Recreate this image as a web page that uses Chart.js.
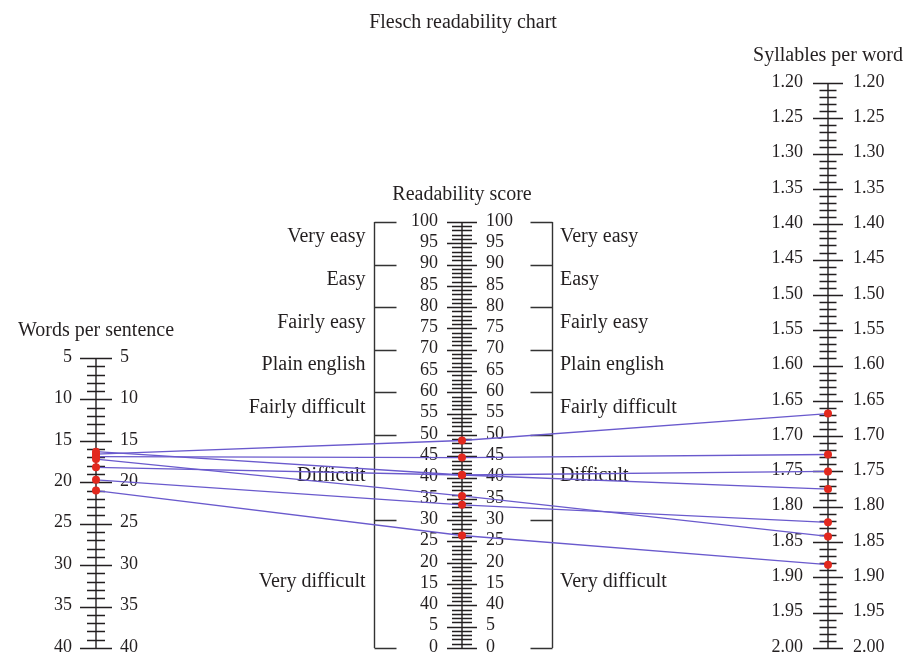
<!DOCTYPE html>
<html>
<head>
<meta charset="utf-8">
<script src="https://cdn.jsdelivr.net/npm/chart.js@4.4.1/dist/chart.umd.min.js"></script>
<style>
  html, body { margin: 0; padding: 0; background: #fff; }
  #wrap { width: 907px; height: 656px; }
</style>
</head>
<body>
<div id="wrap"><canvas id="chart"></canvas></div>
<script>
// tick values of the three scales
const wordsTicks = [5, 10, 15, 20, 25, 30, 35, 40];
const scoreTicks = [100, 95, 90, 85, 80, 75, 70, 65, 60, 55, 50, 45, 40, 35, 30, 25, 20, 15, 10, 5, 0];
const scoreTickLabels = ['100', '95', '90', '85', '80', '75', '70', '65', '60', '55', '50', '45', '40', '35', '30', '25', '20', '15', '40', '5', '0'];
const syllTicks = [1.20, 1.25, 1.30, 1.35, 1.40, 1.45, 1.50, 1.55, 1.60, 1.65, 1.70, 1.75, 1.80, 1.85, 1.90, 1.95, 2.00];

// readability bands (edges and names)
const bandEdges = [100, 90, 80, 70, 60, 50, 30, 0];
const bandNames = ['Very easy', 'Easy', 'Fairly easy', 'Plain english', 'Fairly difficult', 'Difficult', 'Very difficult'];

// one entry per text
const docWords = [16.6, 16.9, 18.2, 16.3, 19.7, 17.2, 21.0];
const docScore = [48.7, 44.7, 40.6, 40.6, 33.6, 35.7, 26.4];
const docSyll = [1.668, 1.726, 1.750, 1.775, 1.822, 1.842, 1.882];

const NUM_FONT = '18px "Liberation Serif", "DejaVu Serif", serif';
const TEXT_FONT = '20px "Liberation Serif", "DejaVu Serif", serif';
const INK = '#231f20';
const LINE = 'rgb(106, 90, 205)';
const DOT = 'rgb(226, 40, 30)';

function drawScale(ctx, x, scale, ticks, labels, fine, opts) {
  const top = scale.getPixelForValue(ticks[0]);
  const bot = scale.getPixelForValue(ticks[ticks.length - 1]);
  ctx.strokeStyle = INK;
  ctx.lineWidth = 1.4;
  ctx.beginPath();
  ctx.moveTo(x, top);
  ctx.lineTo(x, bot);
  // minor ticks
  const lo = Math.min(ticks[0], ticks[ticks.length - 1]);
  const hi = Math.max(ticks[0], ticks[ticks.length - 1]);
  const n = Math.round((hi - lo) / fine);
  for (let i = 0; i <= n; i++) {
    const y = Math.round(scale.getPixelForValue(lo + i * fine)) + 0.5;
    ctx.moveTo(x - opts.minor, y);
    ctx.lineTo(x + opts.minor, y);
  }
  ticks.forEach(t => {
    const y = Math.round(scale.getPixelForValue(t)) + 0.5;
    ctx.moveTo(x - opts.major, y);
    ctx.lineTo(x + opts.major, y);
  });
  ctx.stroke();

  ctx.fillStyle = INK;
  ctx.font = NUM_FONT;
  ctx.textBaseline = 'middle';
  ticks.forEach((t, i) => {
    const y = scale.getPixelForValue(t) - 1;
    ctx.textAlign = 'right';
    ctx.fillText(labels[i], x - opts.gap, y);
    ctx.textAlign = 'left';
    ctx.fillText(labels[i], x + opts.gap, y);
  });
  ctx.font = TEXT_FONT;
  ctx.textAlign = 'center';
  ctx.fillText(opts.title, x, top - 27);
}

const nomogram = {
  id: 'nomogram',
  beforeDatasetsDraw(chart) {
    const ctx = chart.ctx;
    const sx = chart.scales.x;
    const yW = chart.scales.yW, yS = chart.scales.yS, yY = chart.scales.yY;
    const xW = sx.getPixelForValue(0), xS = sx.getPixelForValue(1), xY = sx.getPixelForValue(2);
    ctx.save();

    ctx.fillStyle = INK;
    ctx.font = TEXT_FONT;
    ctx.textAlign = 'center';
    ctx.textBaseline = 'middle';
    ctx.fillText('Flesch readability chart', xS + 1, 23);

    drawScale(ctx, xW, yW, wordsTicks, wordsTicks.map(String), 1,
      { major: 16, minor: 9, gap: 24, title: 'Words per sentence' });
    drawScale(ctx, xS, yS, scoreTicks, scoreTickLabels, 1,
      { major: 15, minor: 10, gap: 24, title: 'Readability score' });
    drawScale(ctx, xY, yY, syllTicks, syllTicks.map(v => v.toFixed(2)), 0.01,
      { major: 15, minor: 8.5, gap: 25, title: 'Syllables per word' });

    // band brackets on both sides of the score scale
    const bl = xS - 87.5, br = xS + 90.5;
    ctx.strokeStyle = '#333';
    ctx.lineWidth = 1.4;
    ctx.beginPath();
    ctx.moveTo(bl, yS.getPixelForValue(bandEdges[0]));
    ctx.lineTo(bl, yS.getPixelForValue(bandEdges[bandEdges.length - 1]));
    ctx.moveTo(br, yS.getPixelForValue(bandEdges[0]));
    ctx.lineTo(br, yS.getPixelForValue(bandEdges[bandEdges.length - 1]));
    bandEdges.forEach(v => {
      const y = Math.round(yS.getPixelForValue(v)) + 0.5;
      ctx.moveTo(bl, y); ctx.lineTo(bl + 22, y);
      ctx.moveTo(br - 22, y); ctx.lineTo(br, y);
    });
    ctx.stroke();

    ctx.fillStyle = INK;
    ctx.font = TEXT_FONT;
    ctx.textBaseline = 'middle';
    bandNames.forEach((name, i) => {
      const y = yS.getPixelForValue((bandEdges[i] + bandEdges[i + 1]) / 2) - (i < 5 ? 6 : 2);
      ctx.textAlign = 'right';
      ctx.fillText(name, xS - 96.5, y);
      ctx.textAlign = 'left';
      ctx.fillText(name, xS + 98, y);
    });

    // connecting lines: words -> score -> syllables
    ctx.strokeStyle = LINE;
    ctx.lineWidth = 1.3;
    docWords.forEach((w, i) => {
      ctx.beginPath();
      ctx.moveTo(xW, yW.getPixelForValue(w));
      ctx.lineTo(xS, yS.getPixelForValue(docScore[i]));
      ctx.lineTo(xY, yY.getPixelForValue(docSyll[i]));
      ctx.stroke();
    });
    ctx.restore();
  }
};

const dotStyle = {
  pointRadius: 4,
  pointHoverRadius: 4,
  backgroundColor: DOT,
  borderWidth: 0,
  clip: false
};

new Chart(document.getElementById('chart'), {
  type: 'scatter',
  data: {
    datasets: [
      { ...dotStyle, label: 'Words per sentence', data: docWords.map(v => ({ x: 0, y: v })), yAxisID: 'yW' },
      { ...dotStyle, label: 'Readability score', data: docScore.map(v => ({ x: 1, y: v })), yAxisID: 'yS' },
      { ...dotStyle, label: 'Syllables per word', data: docSyll.map(v => ({ x: 2, y: v })), yAxisID: 'yY' }
    ]
  },
  options: {
    responsive: true,
    maintainAspectRatio: false,
    animation: false,
    layout: { padding: { left: 96, right: 79, top: 83, bottom: 8 } },
    plugins: { legend: { display: false }, tooltip: { enabled: false } },
    scales: {
      x: { type: 'linear', min: 0, max: 2, display: false },
      yW: { type: 'linear', min: -28.19, max: 40, reverse: true, display: false },
      yS: { type: 'linear', min: 0, max: 132.6, display: false },
      yY: { type: 'linear', min: 1.2, max: 2.0, reverse: true, display: false }
    }
  },
  plugins: [nomogram]
});
</script>
</body>
</html>
